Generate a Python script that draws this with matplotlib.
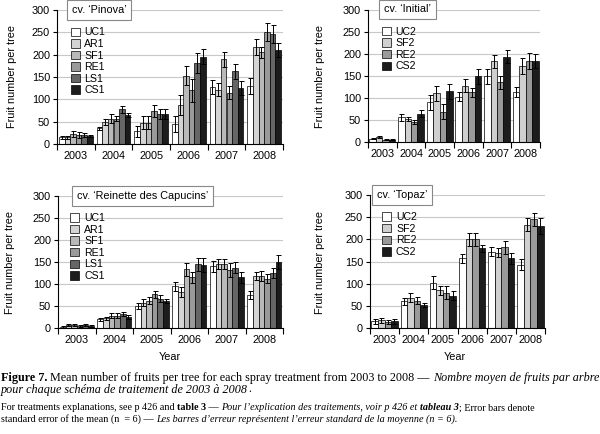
import matplotlib
matplotlib.use("Agg")
import matplotlib.pyplot as plt
import numpy as np

years = ["2003", "2004", "2005", "2006", "2007", "2008"]

# Pinova
pinova_labels = ["UC1", "AR1", "SF1", "RE1", "LS1", "CS1"]
pinova_vals = [
    [15, 35, 28, 45, 128, 130],
    [15, 50, 48, 87, 122, 217],
    [22, 57, 48, 153, 190, 205],
    [20, 57, 74, 120, 115, 251],
    [20, 78, 67, 182, 163, 247],
    [18, 65, 67, 195, 125, 210],
]
pinova_err = [
    [4, 3, 12, 18, 16, 18],
    [4, 7, 15, 22, 15, 17],
    [7, 10, 15, 22, 17, 12],
    [6, 5, 13, 25, 15, 20],
    [5, 8, 12, 22, 17, 20],
    [3, 5, 12, 17, 15, 15],
]

# Initial
initial_labels = ["UC2", "SF2", "RE2", "CS2"]
initial_vals = [
    [7, 55, 90, 102, 148, 113],
    [10, 52, 110, 127, 182, 172],
    [4, 45, 68, 112, 135, 183],
    [4, 63, 115, 148, 193, 183],
]
initial_err = [
    [2, 8, 17, 10, 18, 12],
    [2, 5, 17, 15, 15, 18],
    [1, 5, 17, 10, 15, 18],
    [1, 8, 17, 17, 15, 15],
]

# Reinette des Capucins
reinette_labels = ["UC1", "AR1", "SF1", "RE1", "LS1", "CS1"]
reinette_vals = [
    [3, 20, 50, 95, 140, 75],
    [7, 22, 57, 82, 145, 118],
    [7, 28, 62, 133, 145, 118],
    [5, 28, 77, 115, 132, 112],
    [7, 32, 67, 145, 137, 125],
    [5, 25, 62, 143, 115, 150],
]
reinette_err = [
    [2, 3, 7, 10, 13, 10],
    [3, 3, 8, 12, 12, 10],
    [3, 5, 8, 15, 12, 12],
    [2, 5, 8, 12, 15, 10],
    [3, 5, 8, 15, 12, 12],
    [2, 4, 5, 15, 12, 15],
]

# Topaz
topaz_labels = ["UC2", "SF2", "RE2", "CS2"]
topaz_vals = [
    [15, 60, 102, 157, 172, 143],
    [17, 68, 85, 200, 170, 233],
    [14, 62, 80, 200, 182, 245],
    [15, 52, 73, 180, 157, 230],
]
topaz_err = [
    [5, 7, 15, 10, 10, 12],
    [5, 10, 10, 15, 10, 15],
    [5, 8, 15, 15, 15, 15],
    [5, 5, 10, 8, 12, 17],
]

colors6 = ["#ffffff", "#d4d4d4", "#b9b9b9", "#9a9a9a", "#666666", "#1c1c1c"]
colors4 = ["#ffffff", "#cfcfcf", "#9a9a9a", "#1c1c1c"]

FONT = "Liberation Sans"
SERIF = "Liberation Serif"
W, H = 600, 434

fig = plt.figure(figsize=(6, 4.34), dpi=100)


def px_axes(l, r, t, b):
    return fig.add_axes([l / W, (H - b) / H, (r - l) / W, (b - t) / H])


def panel(rect, title, labels, vals, errs, colors, title_x, legend_xy):
    ax = px_axes(*rect)
    n = len(labels)
    total = 0.9
    w = total / n
    x = np.arange(len(years))
    for i in range(n):
        xi = x - total / 2 + w * (i + 0.5)
        ax.bar(xi, vals[i], w, color=colors[i], edgecolor="black",
               linewidth=0.5, label=labels[i], zorder=2)
        ax.errorbar(xi, vals[i], yerr=errs[i], fmt="none", ecolor="black",
                    elinewidth=0.7, capsize=1.8, capthick=0.7, zorder=3)
    ax.set_xlim(-0.5, len(years) - 0.5)
    ax.set_ylim(0, 300)
    ax.set_yticks(np.arange(0, 301, 50))
    ax.yaxis.grid(True, color="#c8c8c8", linewidth=0.8, zorder=0)
    ax.set_axisbelow(True)
    ax.set_xticks(np.arange(-0.5, len(years)), minor=False)
    ax.set_xticklabels([])
    ax.set_xticks(x, minor=True)
    ax.set_xticklabels(years, minor=True, fontsize=7.8, family=FONT)
    ax.tick_params(axis="x", which="major", direction="out", length=4, width=0.8)
    ax.tick_params(axis="x", which="minor", length=0, pad=5)
    ax.tick_params(axis="y", direction="out", length=3, width=0.8, pad=2,
                   labelsize=7.8)
    for lab in ax.get_yticklabels():
        lab.set_family(FONT)
    for s in ["top", "right"]:
        ax.spines[s].set_visible(False)
    for s in ["left", "bottom"]:
        ax.spines[s].set_linewidth(0.8)
    ax.text(title_x, 1.0, title, transform=ax.transAxes, ha="left",
            va="center", fontsize=7.8, family=FONT, zorder=5,
            bbox=dict(boxstyle="square,pad=0.45", facecolor="white",
                      edgecolor="#888888", linewidth=0.8))
    leg = ax.legend(loc="upper left", bbox_to_anchor=legend_xy,
                    frameon=False, fontsize=7.6, handlelength=0.85,
                    handleheight=0.85, labelspacing=0.15, handletextpad=0.45,
                    borderaxespad=0, borderpad=0)
    for t in leg.get_texts():
        t.set_family(FONT)
    return ax


ax1 = panel((57, 283, 10, 144), "cv. \u2018Pinova\u2019", pinova_labels,
            pinova_vals, pinova_err, colors6, 0.065, (0.06, 0.87))
ax2 = panel((368, 540, 9.5, 141.7), "cv. \u2018Initial\u2019", initial_labels,
            initial_vals, initial_err, colors4, 0.095, (0.08, 0.87))
ax3 = panel((58, 283, 196, 328), "cv. \u2018Reinette des Capucins\u2019",
            reinette_labels, reinette_vals, reinette_err, colors6, 0.085, (0.055, 0.87))
ax4 = panel((370, 545, 195, 328), "cv. \u2018Topaz\u2019", topaz_labels,
            topaz_vals, topaz_err, colors4, 0.04, (0.07, 0.87))

# y labels
for (xp, yc) in [(12, 77), (320, 76), (10, 262), (320, 262)]:
    fig.text(xp / W, 1 - yc / H, "Fruit number per tree", rotation=90,
             ha="center", va="center", fontsize=7.8, family=FONT)
# x labels
fig.text(170 / W, 1 - 357 / H, "Year", ha="center", va="center",
         fontsize=7.8, family=FONT)
fig.text(455 / W, 1 - 357 / H, "Year", ha="center", va="center",
         fontsize=7.8, family=FONT)

# caption with mixed styles
fig.canvas.draw()
renderer = fig.canvas.get_renderer()


def rich_line(x_px, y_px, segments, size):
    x = x_px
    for txt, weight, style in segments:
        t = fig.text(x / W, 1 - y_px / H, txt, ha="left", va="baseline",
                     fontsize=size, family=SERIF, fontweight=weight,
                     fontstyle=style)
        bb = t.get_window_extent(renderer=renderer)
        x += bb.width


rich_line(1, 380.5, [
    ("Figure 7.", "bold", "normal"),
    (" Mean number of fruits per tree for each spray treatment from 2003 to 2008 \u2014 ", "normal", "normal"),
    ("Nombre moyen de fruits par arbre", "normal", "italic"),
], 8.7)
rich_line(1, 392.5, [
    ("pour chaque sch\u00e9ma de traitement de 2003 \u00e0 2008", "normal", "italic"),
    (".", "normal", "normal"),
], 8.7)
rich_line(1, 410.5, [
    ("For treatments explanations, see p 426 and ", "normal", "normal"),
    ("table 3", "bold", "normal"),
    (" \u2014 ", "normal", "normal"),
    ("Pour l\u2019explication des traitements, voir p 426 et ", "normal", "italic"),
    ("tableau 3", "bold", "italic"),
    ("; Error bars denote", "normal", "normal"),
], 7.3)
rich_line(1, 422, [
    ("standard error of the mean (n  = 6) \u2014 ", "normal", "normal"),
    ("Les barres d\u2019erreur repr\u00e9sentent l\u2019erreur standard de la moyenne (n = 6).", "normal", "italic"),
], 7.3)

fig.savefig("out.png", dpi=100)
